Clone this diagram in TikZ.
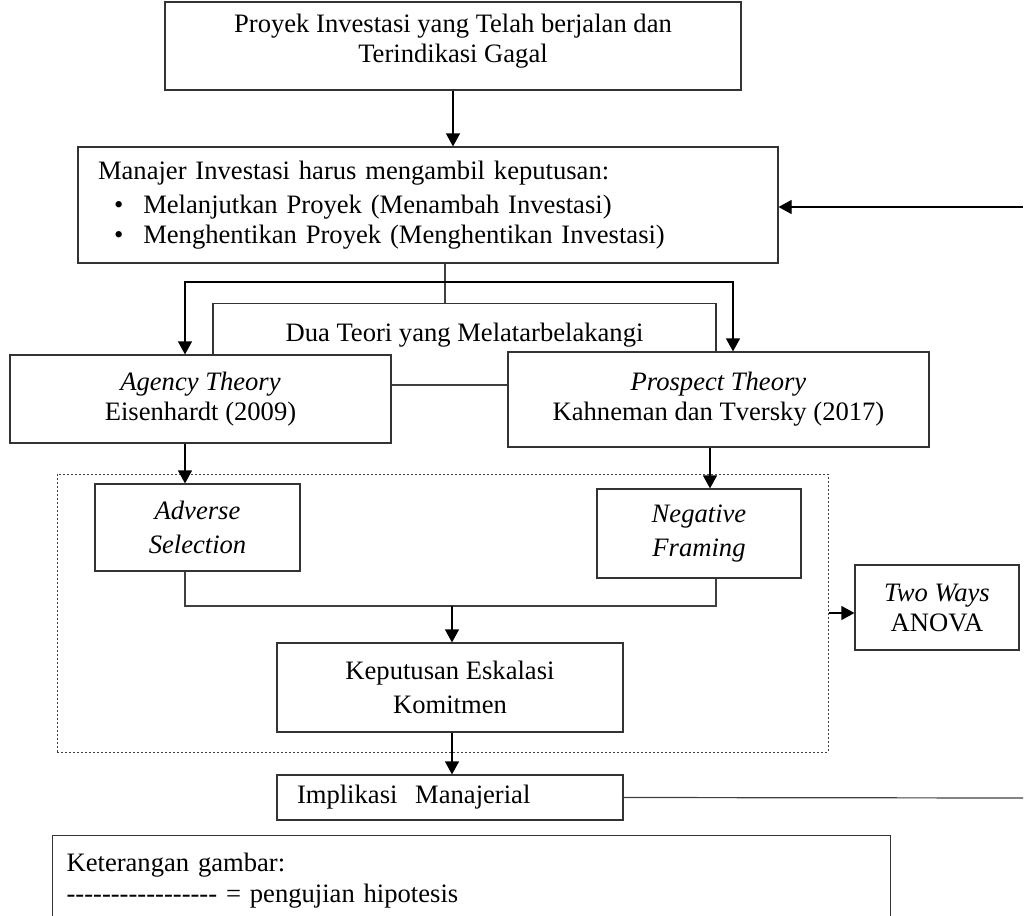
\documentclass[tikz,border=0pt]{standalone}
\usepackage{fontspec}
\setmainfont{Liberation Serif}
\usetikzlibrary{arrows.meta, positioning, calc}

\begin{document}
\begin{tikzpicture}[
    x=0.5pt, y=-0.5pt,
    flowbox/.style={
      rectangle, draw=black!80, line width=0.6pt, fill=white,
      inner sep=0pt, align=center,
      font=\fontsize{13.3}{15}\selectfont
    },
    arr/.style={-{Triangle[length=6.5pt, width=7pt]}, line width=0.6pt, black},
    link/.style={line width=0.6pt, black!75},
    testzone/.style={rectangle, draw=black!75, line width=0.5pt,
      dash pattern=on 1pt off 1pt, inner sep=0pt},
  ]
  \useasboundingbox (0,0) rectangle (1024,916);

  \node[flowbox, minimum width=288pt, minimum height=44pt, text depth=8pt] (proyek) at (453,46)
    {Proyek Investasi yang Telah berjalan dan\\Terindikasi Gagal};
  \node[flowbox, minimum width=350pt, minimum height=58pt, text width=330pt, align=left] (manajer) at (428,205)
    {Manajer Investasi harus mengambil keputusan:\\[2pt]
     \hspace*{8pt}\textbullet\hspace{10pt}Melanjutkan Proyek (Menambah Investasi)\\
     \hspace*{8pt}\textbullet\hspace{10pt}Menghentikan Proyek (Menghentikan Investasi)};

  \node[flowbox, anchor=north, minimum width=251.5pt, text height=19pt, text depth=22pt] (dua) at (464.5,303)
    {Dua Teori yang Melatarbelakangi};
  \node[flowbox, minimum width=190.5pt, minimum height=44pt] (agency) at (200.5,399)
    {\textit{Agency Theory}\\Eisenhardt (2009)};
  \node[flowbox, minimum width=210.5pt, minimum height=47.5pt] (prospect) at (718.5,399.5)
    {\textit{Prospect Theory}\\Kahneman dan Tversky (2017)};

  \node[testzone, minimum width=385.5pt, minimum height=139pt] (uji) at (442.5,613) {};
  \node[flowbox, minimum width=102.5pt, minimum height=43.5pt] (adverse) at (197.5,527.5)
    {\textit{Adverse}\\[2pt]\textit{Selection}};
  \node[flowbox, minimum width=102pt, minimum height=44.5pt] (negative) at (699,533.5)
    {\textit{Negative}\\[2pt]\textit{Framing}};
  \node[flowbox, minimum width=173pt, minimum height=44.5pt] (keputusan) at (450,687.5)
    {Keputusan Eskalasi\\[2pt]Komitmen};
  \node[flowbox, minimum width=173pt, minimum height=22.5pt, text width=153pt, align=left] (implikasi) at (450,797.5)
    {Implikasi\ \ Manajerial};
  \node[flowbox, minimum width=82pt, minimum height=42.5pt] (twoway) at (937,607.5)
    {\textit{Two Ways}\\ANOVA};

  \node[flowbox, anchor=north west, minimum width=419pt, minimum height=45pt, text width=405pt, align=left] (legenda) at (52,835)
    {Keterangan gambar:\\[0.5pt]
     \foreach \i in {1,...,17}{-\kern0pt} = pengujian hipotesis};

  % koneksi utama
  \draw[arr] (proyek.south) -- (proyek.south |- manajer.north);
  \coordinate (fbtop) at (1023,207);
  \coordinate (fbbot) at (1023,798);
  \draw[arr] (fbtop) -- (fbtop -| manajer.east);
  \draw[link] (implikasi.east) -- (fbbot);

  \coordinate (split) at (445,282);
  \draw[link] (split |- manajer.south) -- (split |- dua.north);
  \draw[arr] (split) -| ([xshift=-7.75pt]agency.north);
  \draw[arr] (split) -| ([xshift=7.25pt]prospect.north);
  \draw[link] ([yshift=7pt]agency.east) -- ([yshift=7pt]agency.east -| prospect.west);

  \draw[arr] ([xshift=-7.75pt]agency.south) -- ([xshift=-7.75pt]agency.south |- adverse.north);
  \draw[arr] ([xshift=5.5pt]negative.north |- prospect.south) -- ([xshift=5.5pt]negative.north);

  \coordinate (merge) at (452,606);
  \draw[link] ([xshift=-6.25pt]adverse.south) |- (merge) -| ([xshift=8.5pt]negative.south);
  \draw[arr] (merge) -- (merge |- keputusan.north);
  \draw[arr] (keputusan.south -| merge) -- (implikasi.north -| merge);
  \draw[arr] (uji.east) -- (uji.east -| twoway.west);
\end{tikzpicture}
\end{document}
